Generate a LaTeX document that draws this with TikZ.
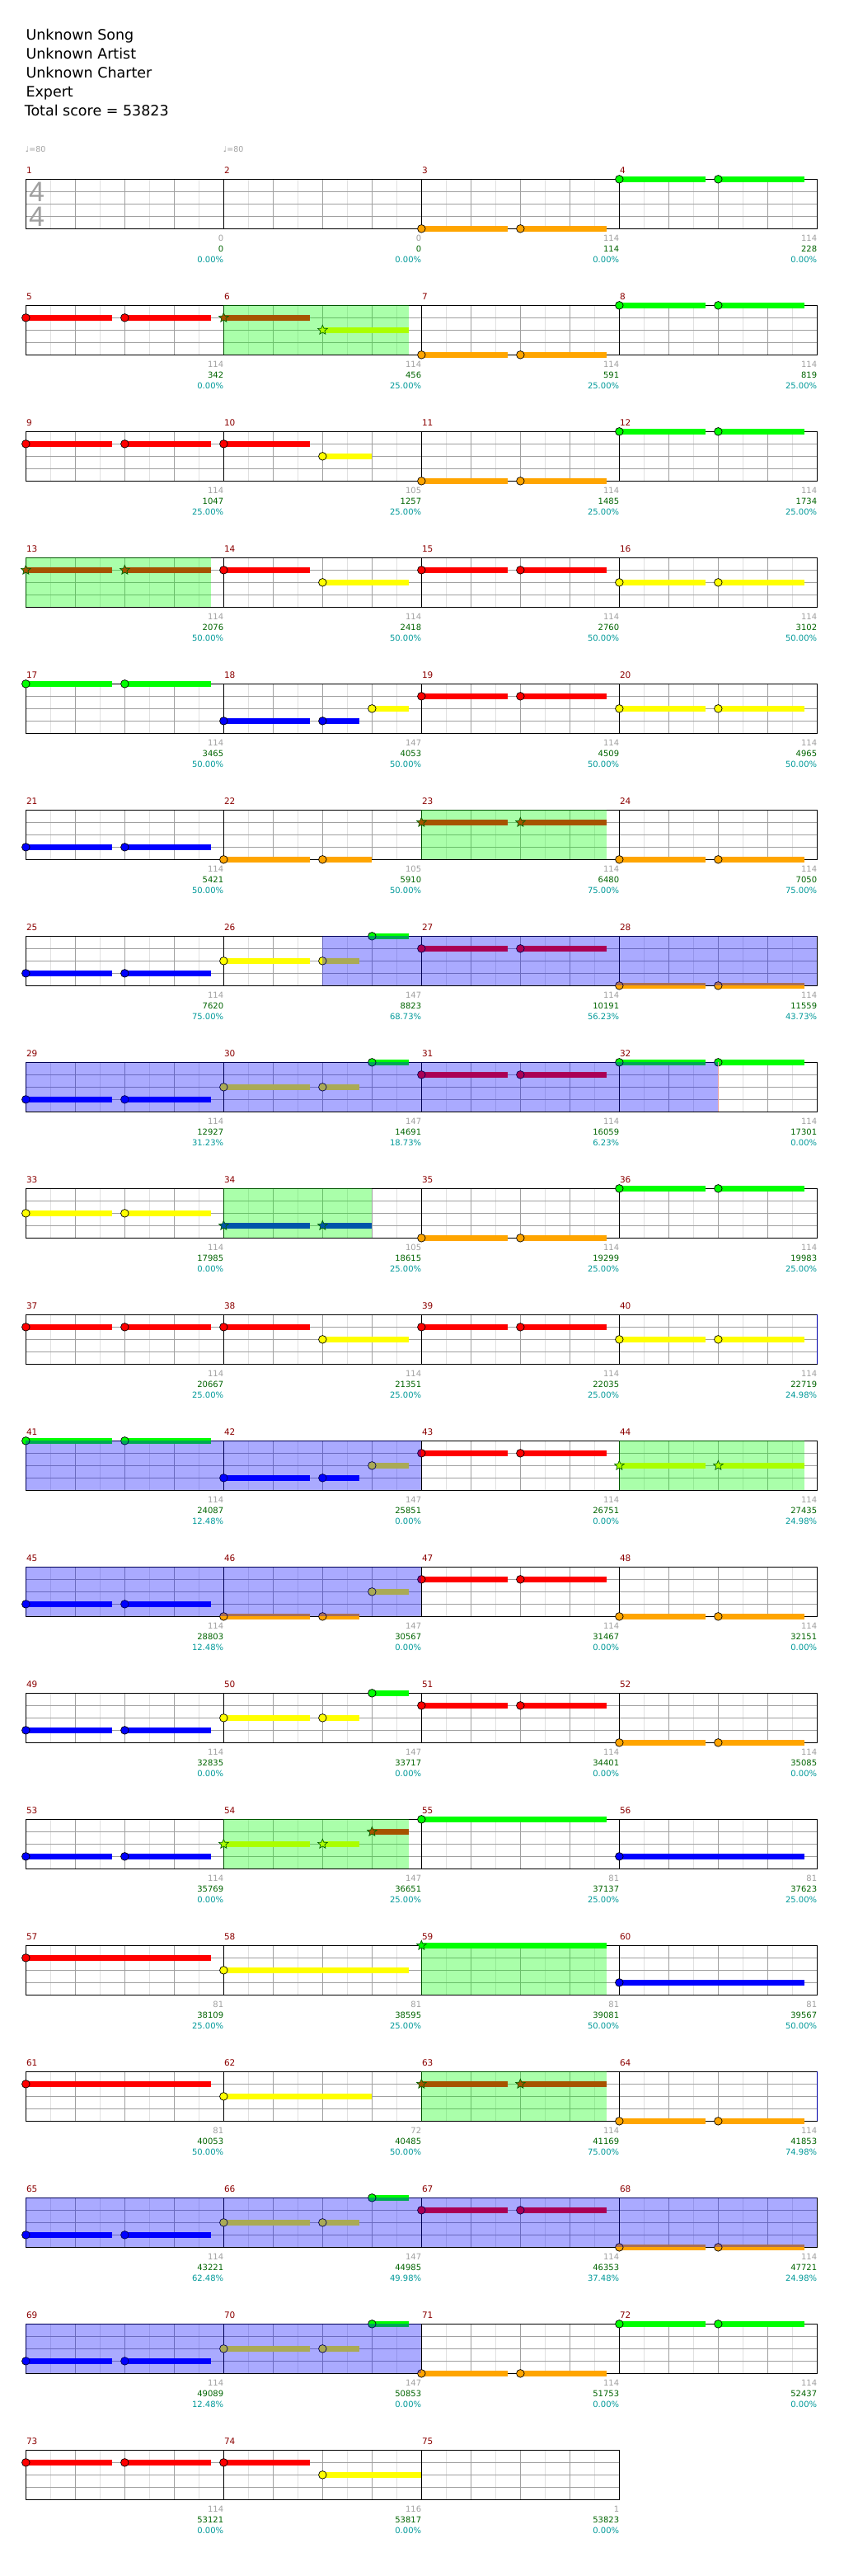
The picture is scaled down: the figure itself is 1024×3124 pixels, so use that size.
\documentclass[tikz,border=0pt]{standalone}
\usepackage{fontspec}
\usetikzlibrary{shapes.geometric}
\newfontfamily\cf{DejaVu Sans}
\newfontfamily\tsf{Liberation Sans}
\definecolor{cgreen}{HTML}{00FF00}
\definecolor{cred}{HTML}{FF0000}
\definecolor{cyel}{HTML}{FFFF00}
\definecolor{cblue}{HTML}{0000FF}
\definecolor{corange}{HTML}{FFA500}
\definecolor{sred}{HTML}{A65300}
\definecolor{syel}{HTML}{AAFF00}
\definecolor{sblue}{HTML}{0055AA}
\definecolor{sgreen}{HTML}{00FF00}
\definecolor{gridlight}{HTML}{E0E0E0}
\definecolor{gridmid}{HTML}{A0A0A0}
\definecolor{mnumcol}{HTML}{8B0000}
\definecolor{graynum}{HTML}{A0A0A0}
\definecolor{scorecol}{HTML}{006400}
\definecolor{pctcol}{HTML}{009999}
\definecolor{starline}{HTML}{006400}
\definecolor{actend}{HTML}{E8A0A0}
\definecolor{actnext}{HTML}{0000AA}
\tikzset{
 smallfont/.style={font=\cf\fontsize{10}{10}\selectfont},
 mnum/.style={anchor=base west, inner sep=0pt, text=mnumcol, font=\cf\fontsize{10.5}{10.5}\selectfont},
 gnum/.style={anchor=base east, inner sep=0pt, text=graynum, smallfont},
 snum/.style={anchor=base east, inner sep=0pt, text=scorecol, smallfont},
 pnum/.style={anchor=base east, inner sep=0pt, text=pctcol, smallfont},
 hdr/.style={anchor=base west, inner sep=0pt, font=\cf\fontsize{17.5}{19}\selectfont},
 tempo/.style={anchor=base west, inner sep=0pt, text=graynum, font=\cf\fontsize{9.5}{9.5}\selectfont},
 tsig/.style={inner sep=0pt, text=graynum, font=\tsf\fontsize{34}{34}\selectfont},
 sustain/.style={line width=6.7pt},
 head/.style={draw=black, line width=0.7pt},
 starhead/.style={star, star points=5, star point ratio=2.2, draw=starline, line width=0.7pt, minimum size=12pt, inner sep=0pt},
 spzone/.style={fill=cgreen, fill opacity=0.333},
 actzone/.style={fill=cblue, fill opacity=0.333},
}
\newcommand\setrow[1]{\pgfmathsetmacro\T{217.33+153*(#1-1)}}
\newcommand\staff[2]{%
  \pgfmathsetmacro\W{240*#1}%
  \pgfmathtruncatemacro\NE{8*#1-1}%
  \pgfmathtruncatemacro\NM{#1-1}%
  \fill[white] (31.33,\T) rectangle ++(\W,60);
  \foreach \i in {1,3,...,\NE}{\draw[gridlight, line width=0.8pt] ({31.33+30*\i},\T) -- ++(0,60);}
  \foreach \m in {0,...,\NM}{\foreach \j in {2,4,6}{\draw[gridmid, line width=0.9pt] ({31.33+240*\m+30*\j},\T) -- ++(0,60);}}
  \foreach \s in {1,2,3}{\draw[gridmid, line width=1pt] (31.33,{\T+15*\s}) -- ++(\W,0);}
  \ifnum\NM>0 \foreach \m in {1,...,\NM}{\draw[black, line width=0.8pt] ({31.33+240*\m},\T) -- ++(0,60);}\fi
  \draw[black, line width=1.2pt] (31.33,\T) rectangle ++(\W,60);
  \foreach \m in {0,...,\NM}{\pgfmathtruncatemacro\num{#2+\m}\node[mnum] (mn\num) at ({31.8+240*\m},{\T-7.3}) {\num};}
}
\newcommand\nums[4]{%
  \node[gnum] at ({31.33+240*#1},{\T+75.4}) {#2};
  \node[snum] at ({31.33+240*#1},{\T+88.4}) {#3};
  \node[pnum] at ({31.33+240*#1},{\T+101.4}) {#4};
}
\newcommand\nt[4]{%
  \draw[sustain,#4] ({31.33+30*#2},{\T+15*#1}) -- ({31.33+30*#3},{\T+15*#1});
  \draw[head,fill=#4] ({31.33+30*#2},{\T+15*#1}) circle [radius=4.8];
}
\newcommand\st[4]{%
  \draw[sustain,#4] ({31.33+30*#2},{\T+15*#1}) -- ({31.33+30*#3},{\T+15*#1});
  \node[starhead,fill=#4] at ({31.33+30*#2},{\T+15*#1}) {};
}
\newcommand\spz[2]{\fill[spzone] ({31.33+30*#1},\T) rectangle ({31.33+30*#2},{\T+60});}
\newcommand\act[2]{\fill[actzone] ({31.33+30*#1},\T) rectangle ({31.33+30*#2},{\T+60});}
\begin{document}
\begin{tikzpicture}[x=1pt,y=-1pt]
\useasboundingbox[fill=white] (0,0) rectangle (1024,3124);
% header
\node[hdr] (song) at (31.3,48.3) {Unknown Song};
\node[hdr] (artist) at (31.3,71.3) {Unknown Artist};
\node[hdr] (charter) at (31.3,94.3) {Unknown Charter};
\node[hdr] (diff) at (31.3,117.3) {Expert};
\node[hdr] (total) at (29.6,140.3) {Total score = 53823};
\node[tempo] (t1) at (30.7,184) {♩=80};
\node[tempo] (t2) at (270.7,184) {♩=80};
% row 1
\setrow{1}\staff{4}{1}
\node[tsig] (ts1) at (44.5,232.5) {4};
\node[tsig] (ts2) at (44.5,262.5) {4};
\nt{4}{16}{19.5}{corange}\nt{4}{20}{23.5}{corange}\nt{0}{24}{27.5}{cgreen}\nt{0}{28}{31.5}{cgreen}
\nums{1}{0}{0}{0.00\%}\nums{2}{0}{0}{0.00\%}\nums{3}{114}{114}{0.00\%}\nums{4}{114}{228}{0.00\%}
% row 2
\setrow{2}\staff{4}{5}
\spz{8}{15.5}
\nt{1}{0}{3.5}{cred}\nt{1}{4}{7.5}{cred}\st{1}{8}{11.5}{sred}\st{2}{12}{15.5}{syel}
\nt{4}{16}{19.5}{corange}\nt{4}{20}{23.5}{corange}\nt{0}{24}{27.5}{cgreen}\nt{0}{28}{31.5}{cgreen}
\nums{1}{114}{342}{0.00\%}\nums{2}{114}{456}{25.00\%}\nums{3}{114}{591}{25.00\%}\nums{4}{114}{819}{25.00\%}
% row 3
\setrow{3}\staff{4}{9}
\nt{1}{0}{3.5}{cred}\nt{1}{4}{7.5}{cred}\nt{1}{8}{11.5}{cred}\nt{2}{12}{14}{cyel}
\nt{4}{16}{19.5}{corange}\nt{4}{20}{23.5}{corange}\nt{0}{24}{27.5}{cgreen}\nt{0}{28}{31.5}{cgreen}
\nums{1}{114}{1047}{25.00\%}\nums{2}{105}{1257}{25.00\%}\nums{3}{114}{1485}{25.00\%}\nums{4}{114}{1734}{25.00\%}
% row 4
\setrow{4}\staff{4}{13}
\spz{0}{7.5}
\st{1}{0}{3.5}{sred}\st{1}{4}{7.5}{sred}\nt{1}{8}{11.5}{cred}\nt{2}{12}{15.5}{cyel}
\nt{1}{16}{19.5}{cred}\nt{1}{20}{23.5}{cred}\nt{2}{24}{27.5}{cyel}\nt{2}{28}{31.5}{cyel}
\nums{1}{114}{2076}{50.00\%}\nums{2}{114}{2418}{50.00\%}\nums{3}{114}{2760}{50.00\%}\nums{4}{114}{3102}{50.00\%}
% row 5
\setrow{5}\staff{4}{17}
\nt{0}{0}{3.5}{cgreen}\nt{0}{4}{7.5}{cgreen}\nt{3}{8}{11.5}{cblue}\nt{3}{12}{13.5}{cblue}\nt{2}{14}{15.5}{cyel}
\nt{1}{16}{19.5}{cred}\nt{1}{20}{23.5}{cred}\nt{2}{24}{27.5}{cyel}\nt{2}{28}{31.5}{cyel}
\nums{1}{114}{3465}{50.00\%}\nums{2}{147}{4053}{50.00\%}\nums{3}{114}{4509}{50.00\%}\nums{4}{114}{4965}{50.00\%}
% row 6
\setrow{6}\staff{4}{21}
\spz{16}{23.5}
\nt{3}{0}{3.5}{cblue}\nt{3}{4}{7.5}{cblue}\nt{4}{8}{11.5}{corange}\nt{4}{12}{14}{corange}
\st{1}{16}{19.5}{sred}\st{1}{20}{23.5}{sred}\nt{4}{24}{27.5}{corange}\nt{4}{28}{31.5}{corange}
\nums{1}{114}{5421}{50.00\%}\nums{2}{105}{5910}{50.00\%}\nums{3}{114}{6480}{75.00\%}\nums{4}{114}{7050}{75.00\%}
% row 7
\setrow{7}\staff{4}{25}
\nt{3}{0}{3.5}{cblue}\nt{3}{4}{7.5}{cblue}\nt{2}{8}{11.5}{cyel}\nt{2}{12}{13.5}{cyel}\nt{0}{14}{15.5}{cgreen}
\nt{1}{16}{19.5}{cred}\nt{1}{20}{23.5}{cred}\nt{4}{24}{27.5}{corange}\nt{4}{28}{31.5}{corange}
\act{12}{32}
\nums{1}{114}{7620}{75.00\%}\nums{2}{147}{8823}{68.73\%}\nums{3}{114}{10191}{56.23\%}\nums{4}{114}{11559}{43.73\%}
% row 8
\setrow{8}\staff{4}{29}
\nt{3}{0}{3.5}{cblue}\nt{3}{4}{7.5}{cblue}\nt{2}{8}{11.5}{cyel}\nt{2}{12}{13.5}{cyel}\nt{0}{14}{15.5}{cgreen}
\nt{1}{16}{19.5}{cred}\nt{1}{20}{23.5}{cred}\nt{0}{24}{27.5}{cgreen}\nt{0}{28}{31.5}{cgreen}
\act{0}{28}
\draw[actend, line width=0.8pt] ({31.33+30*28},\T) -- ++(0,60);
\nums{1}{114}{12927}{31.23\%}\nums{2}{147}{14691}{18.73\%}\nums{3}{114}{16059}{6.23\%}\nums{4}{114}{17301}{0.00\%}
% row 9
\setrow{9}\staff{4}{33}
\spz{8}{14}
\nt{2}{0}{3.5}{cyel}\nt{2}{4}{7.5}{cyel}\st{3}{8}{11.5}{sblue}\st{3}{12}{14}{sblue}
\nt{4}{16}{19.5}{corange}\nt{4}{20}{23.5}{corange}\nt{0}{24}{27.5}{cgreen}\nt{0}{28}{31.5}{cgreen}
\nums{1}{114}{17985}{0.00\%}\nums{2}{105}{18615}{25.00\%}\nums{3}{114}{19299}{25.00\%}\nums{4}{114}{19983}{25.00\%}
% row 10
\setrow{10}\staff{4}{37}
\nt{1}{0}{3.5}{cred}\nt{1}{4}{7.5}{cred}\nt{1}{8}{11.5}{cred}\nt{2}{12}{15.5}{cyel}
\nt{1}{16}{19.5}{cred}\nt{1}{20}{23.5}{cred}\nt{2}{24}{27.5}{cyel}\nt{2}{28}{31.5}{cyel}
\draw[actnext, line width=1.2pt] (991.33,\T) -- ++(0,60);
\nums{1}{114}{20667}{25.00\%}\nums{2}{114}{21351}{25.00\%}\nums{3}{114}{22035}{25.00\%}\nums{4}{114}{22719}{24.98\%}
% row 11
\setrow{11}\staff{4}{41}
\spz{24}{31.5}
\nt{0}{0}{3.5}{cgreen}\nt{0}{4}{7.5}{cgreen}\nt{3}{8}{11.5}{cblue}\nt{3}{12}{13.5}{cblue}\nt{2}{14}{15.5}{cyel}
\nt{1}{16}{19.5}{cred}\nt{1}{20}{23.5}{cred}\st{2}{24}{27.5}{syel}\st{2}{28}{31.5}{syel}
\act{0}{16}
\nums{1}{114}{24087}{12.48\%}\nums{2}{147}{25851}{0.00\%}\nums{3}{114}{26751}{0.00\%}\nums{4}{114}{27435}{24.98\%}
% row 12
\setrow{12}\staff{4}{45}
\nt{3}{0}{3.5}{cblue}\nt{3}{4}{7.5}{cblue}\nt{4}{8}{11.5}{corange}\nt{4}{12}{13.5}{corange}\nt{2}{14}{15.5}{cyel}
\nt{1}{16}{19.5}{cred}\nt{1}{20}{23.5}{cred}\nt{4}{24}{27.5}{corange}\nt{4}{28}{31.5}{corange}
\act{0}{16}
\nums{1}{114}{28803}{12.48\%}\nums{2}{147}{30567}{0.00\%}\nums{3}{114}{31467}{0.00\%}\nums{4}{114}{32151}{0.00\%}
% row 13
\setrow{13}\staff{4}{49}
\nt{3}{0}{3.5}{cblue}\nt{3}{4}{7.5}{cblue}\nt{2}{8}{11.5}{cyel}\nt{2}{12}{13.5}{cyel}\nt{0}{14}{15.5}{cgreen}
\nt{1}{16}{19.5}{cred}\nt{1}{20}{23.5}{cred}\nt{4}{24}{27.5}{corange}\nt{4}{28}{31.5}{corange}
\nums{1}{114}{32835}{0.00\%}\nums{2}{147}{33717}{0.00\%}\nums{3}{114}{34401}{0.00\%}\nums{4}{114}{35085}{0.00\%}
% row 14
\setrow{14}\staff{4}{53}
\spz{8}{15.5}
\nt{3}{0}{3.5}{cblue}\nt{3}{4}{7.5}{cblue}\st{2}{8}{11.5}{syel}\st{2}{12}{13.5}{syel}\st{1}{14}{15.5}{sred}
\nt{0}{16}{23.5}{cgreen}\nt{3}{24}{31.5}{cblue}
\nums{1}{114}{35769}{0.00\%}\nums{2}{147}{36651}{25.00\%}\nums{3}{81}{37137}{25.00\%}\nums{4}{81}{37623}{25.00\%}
% row 15
\setrow{15}\staff{4}{57}
\spz{16}{23.5}
\nt{1}{0}{7.5}{cred}\nt{2}{8}{15.5}{cyel}\st{0}{16}{23.5}{sgreen}\nt{3}{24}{31.5}{cblue}
\nums{1}{81}{38109}{25.00\%}\nums{2}{81}{38595}{25.00\%}\nums{3}{81}{39081}{50.00\%}\nums{4}{81}{39567}{50.00\%}
% row 16
\setrow{16}\staff{4}{61}
\spz{16}{23.5}
\nt{1}{0}{7.5}{cred}\nt{2}{8}{14}{cyel}\st{1}{16}{19.5}{sred}\st{1}{20}{23.5}{sred}
\nt{4}{24}{27.5}{corange}\nt{4}{28}{31.5}{corange}
\draw[actnext, line width=1.2pt] (991.33,\T) -- ++(0,60);
\nums{1}{81}{40053}{50.00\%}\nums{2}{72}{40485}{50.00\%}\nums{3}{114}{41169}{75.00\%}\nums{4}{114}{41853}{74.98\%}
% row 17
\setrow{17}\staff{4}{65}
\nt{3}{0}{3.5}{cblue}\nt{3}{4}{7.5}{cblue}\nt{2}{8}{11.5}{cyel}\nt{2}{12}{13.5}{cyel}\nt{0}{14}{15.5}{cgreen}
\nt{1}{16}{19.5}{cred}\nt{1}{20}{23.5}{cred}\nt{4}{24}{27.5}{corange}\nt{4}{28}{31.5}{corange}
\act{0}{32}
\nums{1}{114}{43221}{62.48\%}\nums{2}{147}{44985}{49.98\%}\nums{3}{114}{46353}{37.48\%}\nums{4}{114}{47721}{24.98\%}
% row 18
\setrow{18}\staff{4}{69}
\nt{3}{0}{3.5}{cblue}\nt{3}{4}{7.5}{cblue}\nt{2}{8}{11.5}{cyel}\nt{2}{12}{13.5}{cyel}\nt{0}{14}{15.5}{cgreen}
\nt{4}{16}{19.5}{corange}\nt{4}{20}{23.5}{corange}\nt{0}{24}{27.5}{cgreen}\nt{0}{28}{31.5}{cgreen}
\act{0}{16}
\nums{1}{114}{49089}{12.48\%}\nums{2}{147}{50853}{0.00\%}\nums{3}{114}{51753}{0.00\%}\nums{4}{114}{52437}{0.00\%}
% row 19
\setrow{19}\staff{3}{73}
\nt{1}{0}{3.5}{cred}\nt{1}{4}{7.5}{cred}\nt{1}{8}{11.5}{cred}\nt{2}{12}{16}{cyel}
\nums{1}{114}{53121}{0.00\%}\nums{2}{116}{53817}{0.00\%}\nums{3}{1}{53823}{0.00\%}
\end{tikzpicture}
\end{document}
